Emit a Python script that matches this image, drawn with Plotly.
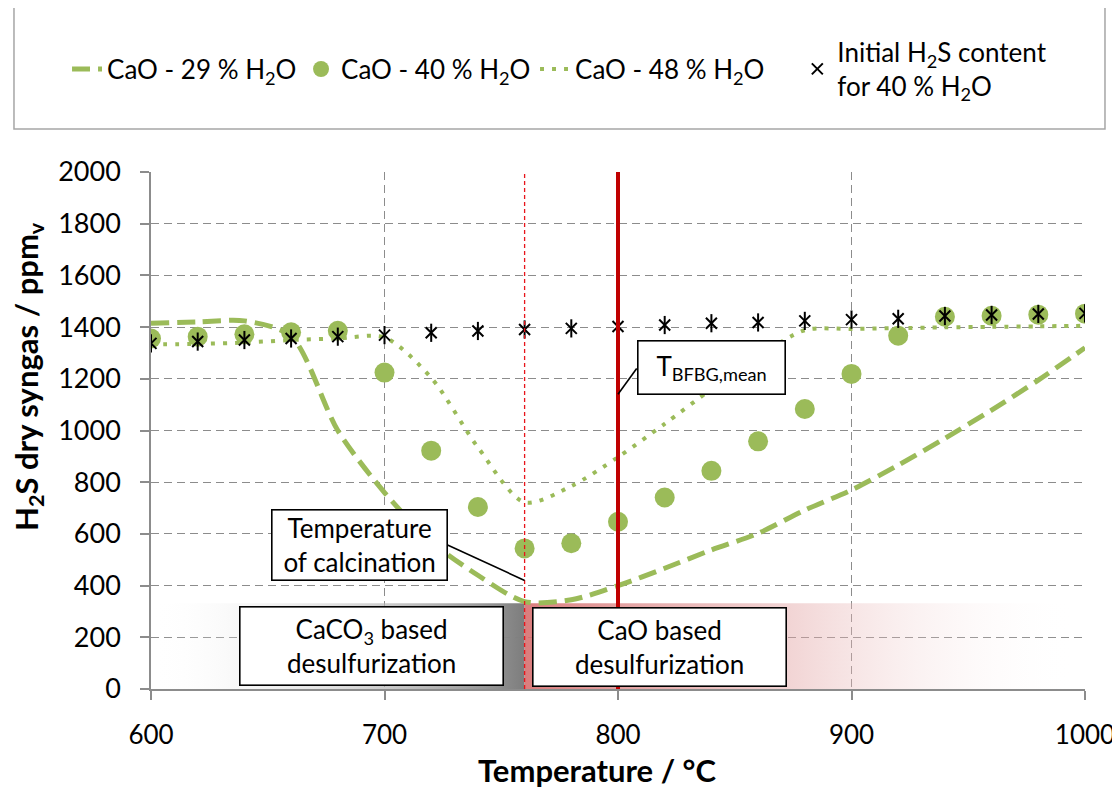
import plotly.graph_objects as go

# ---------------- data ----------------
temperature = [600, 620, 640, 660, 680, 700, 720, 740, 760, 780, 800,
               820, 840, 860, 880, 900, 920, 940, 960, 980, 1000]
cao_29 = [1415, 1420, 1424, 1365, 1000, 760, 570, 440, 338, 345, 400,
          467, 538, 602, 692, 770, 866, 970, 1079, 1195, 1320]
cao_40 = [1356, 1363, 1372, 1380, 1386, 1224, 922, 704, 544, 564, 647,
          741, 844, 958, 1083, 1219, 1367, 1440, 1444, 1448, 1452]
cao_48 = [1333, 1335, 1340, 1350, 1356, 1360, 1204, 935, 722, 785, 897,
          1026, 1160, 1285, 1388, 1393, 1396, 1399, 1401, 1403, 1405]
h2s_initial = [1337, 1344, 1350, 1356, 1363, 1369, 1378, 1385, 1391, 1395, 1402,
               1408, 1415, 1418, 1424, 1429, 1432, 1443, 1447, 1451, 1453]

T_CALCINATION = 760
T_BFBG_MEAN = 800
BAND_X = [600, 760, 996]
BAND_TOP = 332

x_ticks = [600, 700, 800, 900, 1000]
y_ticks = [0, 200, 400, 600, 800, 1000, 1200, 1400, 1600, 1800, 2000]

GREEN = "#9BBB59"
RED = "#C00000"
GRID = "#8C8C8C"
FONT = "Lato"
FS = 26

fig = go.Figure()

# background regions (gradient bands)
fig.add_trace(go.Scatter(
    x=[BAND_X[0], BAND_X[1], BAND_X[1], BAND_X[0], BAND_X[0]],
    y=[0, 0, BAND_TOP, BAND_TOP, 0],
    mode="lines", line=dict(width=0), fill="toself",
    fillgradient=dict(type="horizontal",
                      colorscale=[[0, "rgba(255,255,255,0.0)"],
                                  [0.5, "rgba(200,200,200,0.6)"],
                                  [1, "rgba(125,125,125,1)"]]),
    showlegend=False, hoverinfo="skip"))
fig.add_trace(go.Scatter(
    x=[BAND_X[1], BAND_X[2], BAND_X[2], BAND_X[1], BAND_X[1]],
    y=[0, 0, BAND_TOP, BAND_TOP, 0],
    mode="lines", line=dict(width=0), fill="toself",
    fillgradient=dict(type="horizontal",
                      colorscale=[[0, "rgba(214,110,110,0.9)"],
                                  [0.45, "rgba(225,160,160,0.5)"],
                                  [1, "rgba(255,255,255,0.0)"]]),
    showlegend=False, hoverinfo="skip"))

# series
fig.add_trace(go.Scatter(
    x=temperature, y=cao_29, mode="lines", name="CaO - 29 % H<sub>2</sub>O",
    line=dict(color=GREEN, width=5, dash="18px,8px", shape="spline", smoothing=0.8),
    legend="legend"))
fig.add_trace(go.Scatter(
    x=temperature, y=cao_40, mode="markers", name="CaO - 40 % H<sub>2</sub>O",
    marker=dict(color=GREEN, size=20, symbol="circle"), legend="legend"))
fig.add_trace(go.Scatter(
    x=temperature, y=cao_48, mode="lines", name="CaO - 48 % H<sub>2</sub>O",
    line=dict(color=GREEN, width=4, dash="4px,8px", shape="spline", smoothing=0.8),
    legend="legend"))
fig.add_trace(go.Scatter(
    x=temperature, y=h2s_initial, mode="markers",
    name="Initial H<sub>2</sub>S content<br>for 40 % H<sub>2</sub>O",
    marker=dict(color="black", size=11, symbol="x-thin-open",
                line=dict(color="black", width=2)), legend="legend2"))
fig.add_trace(go.Scatter(
    x=temperature, y=h2s_initial, mode="markers", showlegend=False,
    marker=dict(color="black", size=13, symbol="line-ns-open",
                line=dict(color="black", width=2)), hoverinfo="skip"))

# vertical reference lines
fig.add_shape(type="line", x0=T_CALCINATION, x1=T_CALCINATION, y0=0, y1=2000,
              xref="x", yref="y", line=dict(color="#E8141B", width=1.3, dash="4px,3px"))
fig.add_shape(type="line", x0=T_BFBG_MEAN, x1=T_BFBG_MEAN, y0=0, y1=2000,
              xref="x", yref="y", line=dict(color=RED, width=4))

# callout leader lines
fig.add_shape(type="line", x0=727, y0=557, x1=T_CALCINATION, y1=420,
              xref="x", yref="y", line=dict(color="black", width=1.6))
fig.add_shape(type="line", x0=808, y0=1240, x1=T_BFBG_MEAN, y1=1140,
              xref="x", yref="y", line=dict(color="black", width=1.6))

# legend frame
fig.add_shape(type="rect", xref="paper", yref="paper",
              x0=-0.1467, x1=1.0214, y0=1.083, y1=1.323,
              line=dict(color="#A6A6A6", width=1.5), fillcolor="rgba(0,0,0,0)")

box = dict(bordercolor="black", borderwidth=1.6, bgcolor="white",
           font=dict(family=FONT, size=FS, color="black"), showarrow=False,
           xref="x", yref="y", borderpad=0, xanchor="center", yanchor="middle")
fig.add_annotation(text="Temperature<br>of calcination", x=689.3, y=558,
                   width=174, height=69, **box)
fig.add_annotation(text="T<sub>BFBG,mean</sub>", x=840.1, y=1244,
                   width=146, height=52, **box)
fig.add_annotation(text="CaCO<sub>3</sub> based<br>desulfurization", x=694.6, y=165,
                   width=262, height=77, **box)
fig.add_annotation(text="CaO based<br>desulfurization", x=817.9, y=162,
                   width=252, height=77, **box)

# axis titles
fig.add_annotation(text="<b>H<sub>2</sub>S dry syngas / ppm<sub>v</sub></b>",
                   xref="paper", yref="paper", x=-0.1317, y=0.6054,
                   xanchor="center", yanchor="middle",
                   textangle=-90, showarrow=False,
                   font=dict(family=FONT, size=31, color="black"))
fig.add_annotation(text="<b>Temperature / °C</b>",
                   xref="paper", yref="paper", x=0.4775, y=-0.1567,
                   xanchor="center", yanchor="middle",
                   showarrow=False, font=dict(family=FONT, size=31, color="black"))

legend_common = dict(orientation="h", xanchor="left", yanchor="middle",
                     font=dict(family=FONT, size=FS, color="black"),
                     bgcolor="rgba(0,0,0,0)", itemsizing="trace", valign="middle")

# the page adds an 8 px body margin, so the figure is 8 px smaller
fig.update_layout(
    width=1112, height=779,
    margin=dict(l=143, r=35, t=164, b=98, autoexpand=False),
    paper_bgcolor="white", plot_bgcolor="white",
    font=dict(family=FONT, size=FS, color="black"),
    legend=dict(x=-0.0899, y=1.199, entrywidth=189, entrywidthmode="pixels",
                **legend_common),
    legend2=dict(x=0.692, y=1.199, **legend_common),
    xaxis=dict(range=[600, 1000], tickvals=x_ticks, ticks="outside", ticklen=9,
               tickcolor=GRID, tickwidth=1.5, showline=True, linecolor=GRID, linewidth=1.5,
               showgrid=True, gridcolor=GRID, gridwidth=1.3, griddash="8px,5px",
               zeroline=False, tickfont=dict(family=FONT, size=26, color="black"),
               ticklabelstandoff=13),
    yaxis=dict(range=[0, 2000], tickvals=y_ticks, ticks="outside", ticklen=9,
               tickcolor=GRID, tickwidth=1.5, showline=True, linecolor=GRID, linewidth=1.5,
               showgrid=True, gridcolor=GRID, gridwidth=1.3, griddash="8px,5px",
               zeroline=False, tickfont=dict(family=FONT, size=27, color="black"),
               ticklabelstandoff=14),
)

fig.write_html("out.html")
